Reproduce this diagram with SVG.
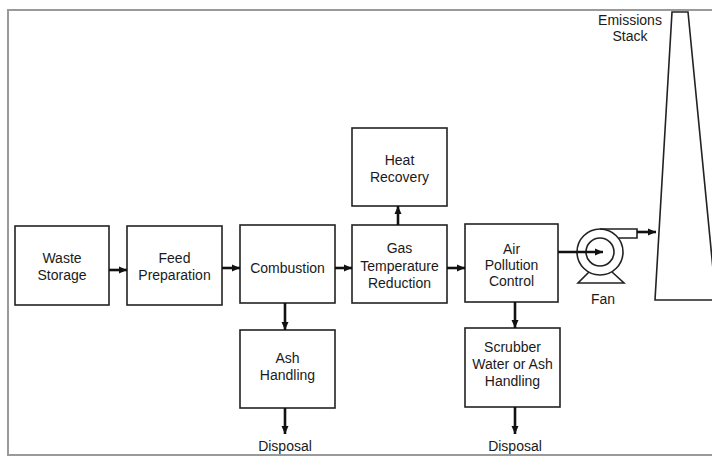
<svg xmlns="http://www.w3.org/2000/svg" width="712" height="460" viewBox="0 0 712 460">
<defs>
<marker id="ah" markerUnits="userSpaceOnUse" markerWidth="9" markerHeight="8" refX="8" refY="4" orient="auto">
<path d="M0,0.5 L8,4 L0,7.5 z" fill="#111"/>
</marker>
<style>
.box{fill:#fff;stroke:#222;stroke-width:1.6}
.t{font-family:"Liberation Sans",Arial,sans-serif;font-size:14px;fill:#1a1a1a;text-anchor:middle}
.c{stroke:#111;stroke-width:2.6;fill:none;marker-end:url(#ah)}
.sh{fill:none;stroke:#222;stroke-width:1.6}
</style>
</defs>
<rect width="712" height="460" fill="#fff"/>
<path d="M712,10 L8,10 L8,455 L712,455" fill="none" stroke="#9a9a9a" stroke-width="2"/>

<g id="waste-storage"><rect class="box" x="15" y="226" width="94" height="79"/><text class="t" x="62" y="263">Waste</text><text class="t" x="62" y="280">Storage</text></g>
<g id="feed-preparation"><rect class="box" x="127" y="226" width="95" height="79"/><text class="t" x="174.5" y="263">Feed</text><text class="t" x="174.5" y="280">Preparation</text></g>
<g id="combustion"><rect class="box" x="240" y="225" width="95" height="78"/><text class="t" x="287.5" y="273">Combustion</text></g>
<g id="gas-temperature-reduction"><rect class="box" x="352" y="225" width="95" height="78"/><text class="t" x="399.5" y="253">Gas</text><text class="t" x="399.5" y="271">Temperature</text><text class="t" x="399.5" y="288">Reduction</text></g>
<g id="heat-recovery"><rect class="box" x="352" y="128" width="95" height="78"/><text class="t" x="399.5" y="165">Heat</text><text class="t" x="399.5" y="182">Recovery</text></g>
<g id="air-pollution-control"><rect class="box" x="465" y="224" width="93" height="78"/><text class="t" x="511.5" y="254">Air</text><text class="t" x="511.5" y="270">Pollution</text><text class="t" x="511.5" y="286">Control</text></g>
<g id="ash-handling"><rect class="box" x="240" y="330" width="95" height="78"/><text class="t" x="287.5" y="363">Ash</text><text class="t" x="287.5" y="380">Handling</text></g>
<g id="scrubber"><rect class="box" x="465" y="328" width="95" height="79"/><text class="t" x="512.5" y="352">Scrubber</text><text class="t" x="512.5" y="369">Water or Ash</text><text class="t" x="512.5" y="386">Handling</text></g>
<g id="disposal-1"><text class="t" x="285" y="451">Disposal</text></g>
<g id="disposal-2"><text class="t" x="515" y="451">Disposal</text></g>

<g id="fan">
<circle class="sh" cx="600" cy="252" r="23"/>
<circle class="sh" cx="600" cy="252" r="14"/>
<path class="sh" d="M600,229 L637,229 L637,238 L618.5,238"/>
<path class="sh" d="M589,272 L578,283 L624,283 L612,272"/>
<text class="t" x="603" y="304">Fan</text>
</g>

<g id="emissions-stack">
<path class="sh" d="M712,300 L655,300 L672,12 L688,12 L716,300"/>
<text class="t" x="630" y="25">Emissions</text>
<text class="t" x="630" y="41">Stack</text>
</g>

<g id="connectors">
<line class="c" x1="109" y1="270" x2="127" y2="270"/>
<line class="c" x1="222" y1="268" x2="240" y2="268"/>
<line class="c" x1="335" y1="268" x2="352" y2="268"/>
<line class="c" x1="447" y1="268" x2="465" y2="268"/>
<line class="c" x1="398" y1="225" x2="398" y2="206"/>
<line class="c" x1="285" y1="303" x2="285" y2="330"/>
<line class="c" x1="285" y1="408" x2="285" y2="434"/>
<line class="c" x1="515" y1="302" x2="515" y2="328"/>
<line class="c" x1="515" y1="407" x2="515" y2="434"/>
<line class="c" x1="558" y1="252" x2="603" y2="252"/>
<line class="c" x1="637" y1="232" x2="656" y2="232"/>
</g>
</svg>
